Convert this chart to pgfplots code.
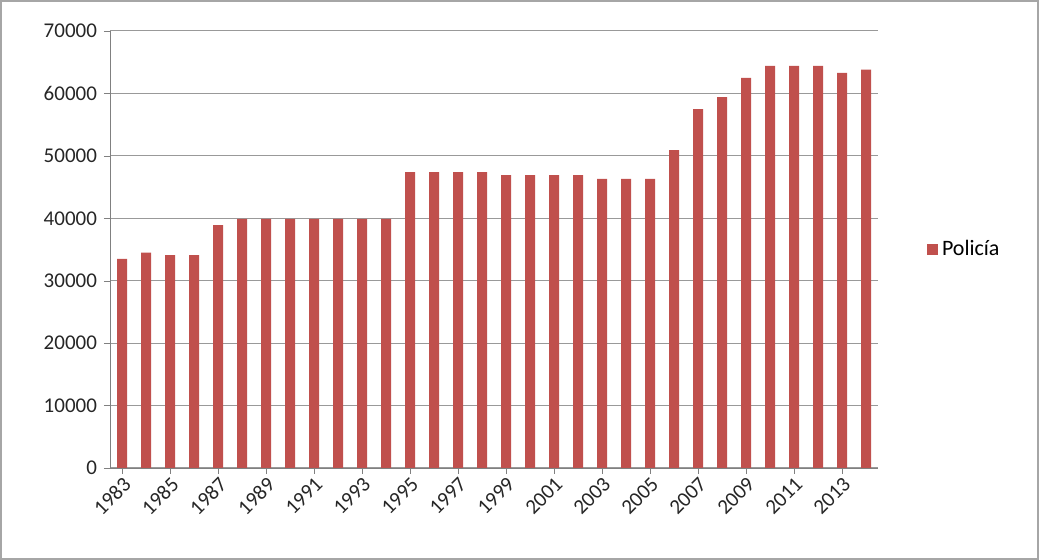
\documentclass[border=0pt]{standalone}
\usepackage{pgfplots}
\pgfplotsset{compat=1.18}
\usepackage{fontspec}
\setmainfont{Carlito}
\definecolor{bar}{HTML}{C0504D}
\begin{document}
\begin{tikzpicture}
\path[use as bounding box] (0,0) rectangle (519.5pt,280pt);
\draw[gray!70, line width=0.8pt] (0.5pt,0.5pt) rectangle (519pt,279.5pt);
\begin{axis}[at={(55pt,46pt)}, anchor=south west, scale only axis,
 width=384pt, height=218.5pt,
 ymin=0, ymax=70000, ytick={0,10000,...,70000},
 xmin=-0.5, xmax=31.5,
 xtick={0,2,...,30},
 xticklabels={1983,1985,1987,1989,1991,1993,1995,1997,1999,2001,2003,2005,2007,2009,2011,2013},
 x tick label style={rotate=45, anchor=north east, inner sep=0.5pt},
 scaled y ticks=false,
 /pgf/number format/assume math mode=true,
 yticklabel={\pgfmathprintnumber[set thousands separator={}]{\tick}},
 tick label style={font=\fontsize{10.5}{11}\selectfont, text=black!85},
 axis x line*=bottom, axis y line*=left,
 axis line style={gray}, tick style={gray}, tick align=outside,
 major tick length=3pt,
 ymajorgrids, grid style={gray!80, line width=0.5pt},
 legend style={at={(1.055,0.5)}, anchor=west, draw=none, fill=none, font=\fontsize{11}{12}\selectfont},
 legend image code/.code={\fill[bar] (0cm,-0.1cm) rectangle (0.2cm,0.1cm);},
]
\addplot[ybar, bar width=5pt, fill=bar, draw=none] coordinates {
(0,33500)(1,34500)(2,34100)(3,34100)(4,38900)(5,39900)(6,39900)(7,39900)
(8,39900)(9,39900)(10,39900)(11,39900)(12,47400)(13,47400)(14,47400)(15,47400)
(16,46900)(17,46900)(18,46900)(19,46900)(20,46300)(21,46300)(22,46300)(23,50900)
(24,57500)(25,59400)(26,62500)(27,64400)(28,64400)(29,64400)(30,63300)(31,63800)};
\addlegendentry{Policía}
\end{axis}
\end{tikzpicture}
\end{document}
